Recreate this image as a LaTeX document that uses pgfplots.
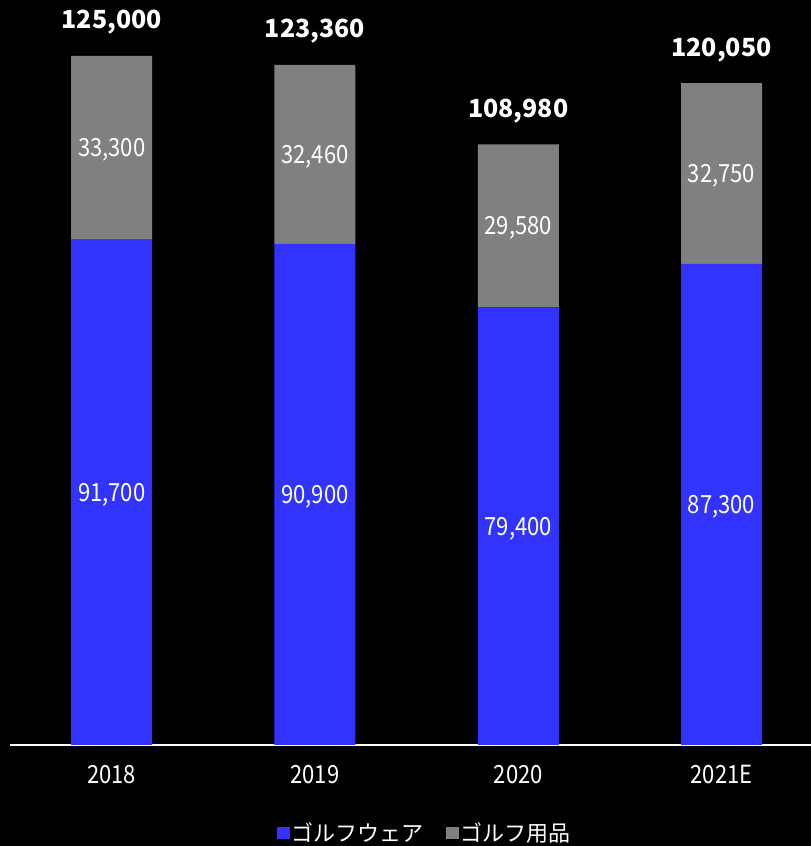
\documentclass[border=0pt]{standalone}
\usepackage{pgfplots}
\pgfplotsset{compat=1.18}
\usepackage{fontspec}
\setmainfont{Noto Sans CJK JP}
\newfontfamily\segfont[FakeStretch=0.88]{Noto Sans CJK JP}
\definecolor{barblue}{RGB}{51,51,255}
\definecolor{bargray}{RGB}{128,128,128}
\tikzset{seg/.style={text=white, font=\segfont\fontsize{25bp}{27bp}\selectfont, anchor=center, yshift=-2.5bp},
  tot/.style={text=white, font=\bfseries\fontsize{25bp}{28bp}\selectfont, anchor=base, yshift=27bp}}
\begin{document}
\begin{tikzpicture}
\useasboundingbox (0,0) rectangle (811bp,846bp);
\fill[black] (0,0) rectangle (811bp,846bp);
\begin{axis}[
  at={(10bp,101bp)}, anchor=south west,
  scale only axis, width=801bp, height=716.6bp,
  xmin=-0.5, xmax=3.44, ymin=0, ymax=130000,
  ybar stacked, bar width=81bp,
  axis x line*=bottom, axis y line=none,
  x axis line style={white, line width=1.5bp, -},
  xtick={0,1,2,3}, xticklabels={2018,2019,2020,2021E},
  ytick=\empty,
  major tick length=0pt,
  xticklabel style={text=white, font=\segfont\fontsize{25bp}{28bp}\selectfont, yshift=-17bp},
  clip=false,
  legend style={at={(0.518,-0.1228)}, anchor=center, legend columns=2, draw=none, fill=none,
    text=white, font=\fontsize{22bp}{24bp}\selectfont,
    nodes={inner sep=2bp},
    /tikz/every odd column/.append style={column sep=0bp},
    /tikz/every even column/.append style={column sep=20bp}},
  legend image code/.code={\fill[#1] (0bp,-6.3bp) rectangle (12.7bp,6.3bp);},
]
\addplot[fill=barblue, draw=none] coordinates {(0,91700) (1,90900) (2,79400) (3,87300)};
\addlegendentry{ゴルフウェア}
\addplot[fill=bargray, draw=none] coordinates {(0,33300) (1,32460) (2,29580) (3,32750)};
\addlegendentry{ゴルフ用品}
\coordinate (b0) at (axis cs:0,45850);
\coordinate (b1) at (axis cs:1,45450);
\coordinate (b2) at (axis cs:2,39700);
\coordinate (b3) at (axis cs:3,43650);
\coordinate (g0) at (axis cs:0,108350);
\coordinate (g1) at (axis cs:1,107130);
\coordinate (g2) at (axis cs:2,94190);
\coordinate (g3) at (axis cs:3,103675);
\node[tot] at (axis cs:0,125000) {125,000};
\node[tot] at (axis cs:1,123360) {123,360};
\node[tot] at (axis cs:2,108980) {108,980};
\node[tot] at (axis cs:3,120050) {120,050};
\end{axis}
\node[seg] at (b0) {91,700};
\node[seg] at (b1) {90,900};
\node[seg] at (b2) {79,400};
\node[seg] at (b3) {87,300};
\node[seg] at (g0) {33,300};
\node[seg] at (g1) {32,460};
\node[seg] at (g2) {29,580};
\node[seg] at (g3) {32,750};
\end{tikzpicture}
\end{document}
